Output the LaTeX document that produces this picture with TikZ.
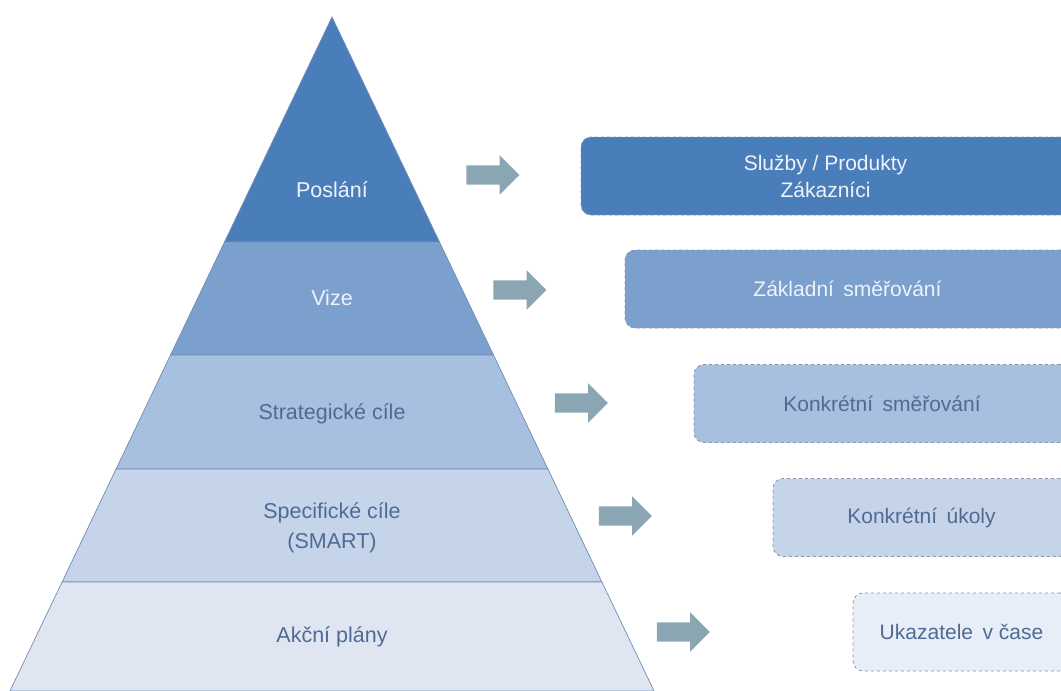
\documentclass[tikz,border=0pt]{standalone}
\usepackage{fontspec}
\setmainfont{Liberation Sans}
\usetikzlibrary{shapes.arrows}
\definecolor{cA}{HTML}{4A7EBB}
\definecolor{cB}{HTML}{7BA0CD}
\definecolor{cC}{HTML}{A8C0DF}
\definecolor{cD}{HTML}{C5D4E9}
\definecolor{cE}{HTML}{DFE6F2}
\definecolor{cEb}{HTML}{E8EEF7}
\definecolor{txtdark}{HTML}{4F6B94}
\definecolor{txtlight}{HTML}{EEF3FB}
\definecolor{arrowc}{HTML}{8BA6B3}
\definecolor{dashc}{HTML}{8596AE}
\definecolor{sepc}{HTML}{6F8DB5}
\tikzset{
  pyrtext/.style={font=\fontsize{21.5}{30}\selectfont, align=center, inner sep=0pt},
  boxnode/.style={draw=dashc, dashed, line width=0.8pt, rounded corners=10pt, inner sep=0pt,
    minimum height=78pt, font=\fontsize{21}{27}\selectfont, align=center},
  fatarrow/.style={single arrow, fill=arrowc, draw=none, minimum height=53pt,
    single arrow head extend=10pt, inner sep=0pt},
  level/.style={draw=sepc, line width=0.7pt}
}
\begin{document}
\begin{tikzpicture}[x=1pt,y=-1pt]
\useasboundingbox (0,0) rectangle (1061,691);
\clip (0,0) rectangle (1061,691);
% pyramid levels
\filldraw[level, fill=cA] (332,17) -- (439.5,242) -- (224.5,242) -- cycle;
\filldraw[level, fill=cB] (224.5,242) -- (439.5,242) -- (493.5,355) -- (170.5,355) -- cycle;
\filldraw[level, fill=cC] (170.5,355) -- (493.5,355) -- (547.9,469) -- (116.1,469) -- cycle;
\filldraw[level, fill=cD] (116.1,469) -- (547.9,469) -- (601.9,582) -- (62.1,582) -- cycle;
\filldraw[level, fill=cE] (62.1,582) -- (601.9,582) -- (654,691) -- (10,691) -- cycle;
% pyramid texts
\node[pyrtext, text=txtlight] (l1) at (332,190) {Poslání};
\node[pyrtext, text=txtlight] (l2) at (332,298) {Vize};
\node[pyrtext, text=txtdark] (l3) at (332,414) {Strategické cíle};
\node[pyrtext, text=txtdark] (l4) at (332,528) {Specifické cíle\\(SMART)};
\node[pyrtext, text=txtdark] (l5) at (332,637) {Akční plány};
% arrows
\node[fatarrow] (a1) at (488,175) {\rule{0pt}{19pt}};
\node[fatarrow] (a2) at (515,290) {\rule{0pt}{19pt}};
\node[fatarrow] (a3) at (576.5,403) {\rule{0pt}{19pt}};
\node[fatarrow] (a4) at (620.5,516) {\rule{0pt}{19pt}};
\node[fatarrow] (a5) at (678.5,632) {\rule{0pt}{19pt}};
% boxes
\node[boxnode, fill=cA, text=txtlight, minimum width=489pt] (b1) at (825.5,176) {Služby / Produkty\\Zákazníci};
\node[boxnode, fill=cB, text=txtlight, minimum width=445pt] (b2) at (847.5,289) {Základní\hspace{0.45em}směřování};
\node[boxnode, fill=cC, text=txtdark, minimum width=376pt] (b3) at (882,403.5) {Konkrétní\hspace{0.45em}směřování};
\node[boxnode, fill=cD, text=txtdark, minimum width=297pt] (b4) at (921.5,517.5) {Konkrétní\hspace{0.45em}úkoly};
\node[boxnode, fill=cEb, text=txtdark, minimum width=217pt] (b5) at (961.5,632) {Ukazatele\hspace{0.45em}v čase};
\end{tikzpicture}
\end{document}
